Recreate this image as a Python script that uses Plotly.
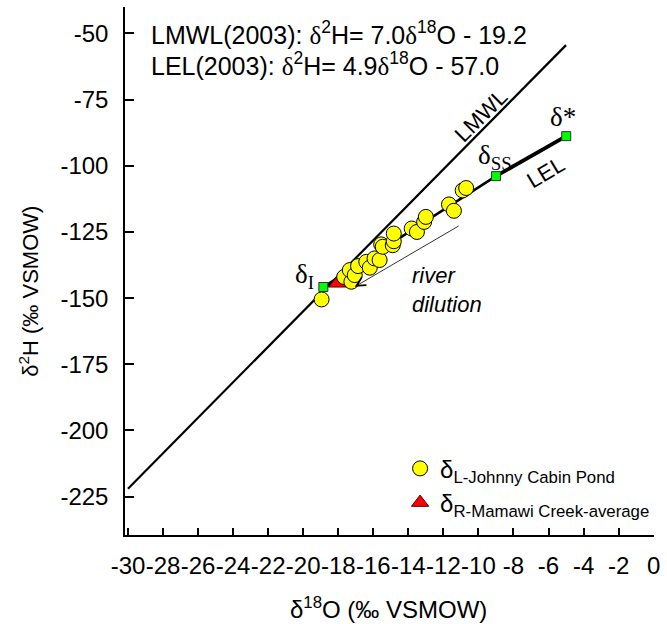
import plotly.graph_objects as go

# ---- data ----
pond_d18O = [-18.95, -17.66, -17.25, -17.34, -17.06, -16.87, -16.40, -16.20, -15.93, -15.64,
             -15.55, -15.46, -14.89, -14.83, -14.83, -13.81, -13.51, -13.10, -13.00,
             -11.68, -11.40, -10.90, -10.70]
pond_d2H = [-150.5, -142.0, -143.8, -139.4, -141.3, -137.9, -136.3, -138.5, -135.0, -135.6,
            -129.7, -130.6, -130.0, -128.5, -125.6, -123.7, -125.0, -121.2, -119.3,
            -114.6, -117.0, -109.3, -108.4]
river_d18O = [-18.04]
river_d2H = [-144.4]

lmwl_d18O = [-30.0, -5.0]
lmwl_d2H = [-222.0, -54.4]

lel_d18O = [-18.85, -9.0]
lel_d2H = [-145.8, -103.9]
lel_end_d18O = [-9.0, -4.99]
lel_end_d2H = [-103.9, -88.8]

marker_d18O = [-18.85, -9.0, -4.99]   # delta_I, delta_SS, delta*
marker_d2H = [-145.8, -103.9, -88.8]

x_ticks = list(range(-30, 1, 2))
x_labels = [str(v) for v in x_ticks]
y_ticks = [-50, -75, -100, -125, -150, -175, -200, -225]
y_labels = [str(v) for v in y_ticks]

FONT = "Liberation Sans, Arial, sans-serif"
SERIF = "Liberation Serif, Times New Roman, serif"

fig = go.Figure()

fig.add_trace(go.Scatter(x=lmwl_d18O, y=lmwl_d2H, mode="lines",
                         line=dict(color="black", width=2.2), showlegend=False, hoverinfo="skip"))
fig.add_trace(go.Scatter(x=lel_d18O, y=lel_d2H, mode="lines",
                         line=dict(color="black", width=2.5), showlegend=False, hoverinfo="skip"))
fig.add_trace(go.Scatter(x=lel_end_d18O, y=lel_end_d2H, mode="lines",
                         line=dict(color="black", width=3.8), showlegend=False, hoverinfo="skip"))

fig.add_trace(go.Scatter(x=river_d18O, y=river_d2H, mode="markers",
                         name="δ<sub>R-Mamawi Creek-average</sub>",
                         legendrank=2,
                         marker=dict(symbol="triangle-up", size=15, color="#FF0000",
                                     line=dict(color="#600000", width=1))))
fig.add_trace(go.Scatter(x=pond_d18O, y=pond_d2H, mode="markers",
                         name="δ<sub>L-Johnny Cabin Pond</sub>",
                         legendrank=1,
                         marker=dict(symbol="circle", size=15, color="#FFFF00",
                                     line=dict(color="black", width=1))))
fig.add_trace(go.Scatter(x=marker_d18O, y=marker_d2H, mode="markers",
                         marker=dict(symbol="square", size=9, color="#00FF00",
                                     line=dict(color="#333333", width=1)),
                         showlegend=False, hoverinfo="skip"))

ann = []
sym = '<span style="font-family:Liberation Serif">δ</span>'
ann.append(dict(xref="paper", yref="paper", x=0.045, y=0.951, xanchor="left", yanchor="middle",
                text=f"LMWL(2003): {sym}<sup>2</sup>H= 7.0{sym}<sup>18</sup>O - 19.2",
                showarrow=False, font=dict(family=FONT, size=25, color="black")))
ann.append(dict(xref="paper", yref="paper", x=0.045, y=0.892, xanchor="left", yanchor="middle",
                text=f"LEL(2003): {sym}<sup>2</sup>H= 4.9{sym}<sup>18</sup>O - 57.0",
                showarrow=False, font=dict(family=FONT, size=25, color="black")))
# labels on the lines
ann.append(dict(x=-9.85, y=-80.9, text="LMWL", textangle=-45, showarrow=False,
                font=dict(family=FONT, size=22, color="black")))
ann.append(dict(x=-6.17, y=-102.4, text="LEL", textangle=-31, showarrow=False,
                font=dict(family=FONT, size=22, color="black")))
ann.append(dict(x=-19.93, y=-141.7, text="δ<sub>I</sub>", showarrow=False,
                font=dict(family=SERIF, size=27, color="black")))
ann.append(dict(x=-9.06, y=-96.7, text="δ<sub>SS</sub>", showarrow=False,
                font=dict(family=SERIF, size=27, color="black")))
ann.append(dict(x=-5.16, y=-81.6, text="δ*", showarrow=False,
                font=dict(family=SERIF, size=27, color="black")))
ann.append(dict(x=-13.93, y=-147.0, xanchor="left", align="left",
                text="<i>river<br>dilution</i>", showarrow=False,
                font=dict(family=FONT, size=22, color="black")))
# river-dilution arrow
ann.append(dict(x=-17.06, y=-145.7, ax=-11.04, ay=-122.4, axref="x", ayref="y",
                text="", showarrow=True, arrowhead=5, arrowsize=2.2, arrowwidth=0.8,
                arrowcolor="black"))
# axis titles
ann.append(dict(xref="paper", yref="paper", x=0.499, y=-0.138, xanchor="center", yanchor="middle",
                text="δ<sup>18</sup>O (‰ VSMOW)", showarrow=False,
                font=dict(family=FONT, size=24, color="black")))
ann.append(dict(xref="paper", yref="paper", x=-0.182, y=0.462, xanchor="center", yanchor="middle",
                text="δ<sup>2</sup>H (‰ VSMOW)", textangle=-90, showarrow=False,
                font=dict(family=FONT, size=22, color="black")))

fig.update_layout(
    width=667, height=624,
    margin=dict(l=125, r=9, t=7, b=89),
    paper_bgcolor="white", plot_bgcolor="white",
    font=dict(family=FONT, size=24, color="black"),
    annotations=ann,
    showlegend=True,
    legend=dict(x=0.52, y=0.168, xanchor="left", yanchor="top",
                bgcolor="rgba(0,0,0,0)", font=dict(family=FONT, size=24, color="black"),
                traceorder="normal", itemsizing="trace"),
    xaxis=dict(range=[-30.17, 0.02], showgrid=False, zeroline=False, showline=True,
               linecolor="black", linewidth=1.5, ticks="inside", ticklen=7, tickwidth=1.5,
               tickcolor="black", tickvals=x_ticks, ticktext=x_labels, tickangle=0,
               ticklabeloverflow="allow",
               tickfont=dict(family=FONT, size=24, color="black"), ticklabelstandoff=8),
    yaxis=dict(range=[-239.5, -40], showgrid=False, zeroline=False, showline=True,
               linecolor="black", linewidth=1.5, ticks="inside", ticklen=9, tickwidth=1.5,
               tickcolor="black", tickvals=y_ticks, ticktext=y_labels,
               tickfont=dict(family=FONT, size=24, color="black"), ticklabelstandoff=10),
)

fig.write_html("out.html")
